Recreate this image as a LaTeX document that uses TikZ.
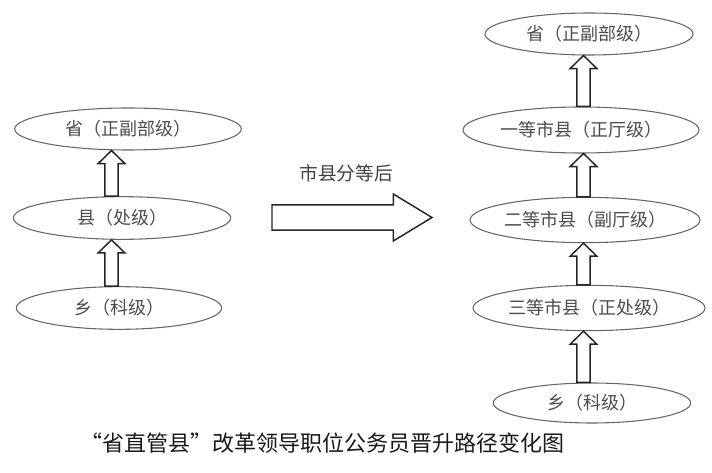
\documentclass[tikz,border=0pt]{standalone}
\usepackage{fontspec}
\newfontfamily\cjk{Noto Sans CJK SC}
\usetikzlibrary{shapes.geometric,calc}
\tikzset{
  post/.style={ellipse, draw=black!60, line width=0.8pt, inner sep=0pt,
    text=black!70, font=\cjk\fontsize{13.5pt}{14pt}\selectfont},
  hollow/.style={draw=black!85, line width=1.1pt, fill=white, line join=miter},
}
% hollow upward block arrow from node #1 to node #2 at x = #3
\newcommand{\blockup}[3]{%
  \draw[hollow] let \p1=(#1.north), \p2=(#2.south), \p3=(#3,0) in
    (\x3-4.9pt,\y1) -- (\x3-4.9pt,\y2-9.75pt) -- (\x3-10pt,\y2-9.75pt) -- (\x3,\y2)
    -- (\x3+10pt,\y2-9.75pt) -- (\x3+4.9pt,\y2-9.75pt) -- (\x3+4.9pt,\y1) -- cycle;}

\begin{document}
\begin{tikzpicture}[x=0.75pt,y=-0.75pt]
\useasboundingbox (0,0) rectangle (712,473);
% before
\node[post, minimum width=170pt, minimum height=31.5pt] (L1) at (128,129) {省（正副部级）};
\node[post, minimum width=163pt, minimum height=32pt] (L2) at (122,218) {县（处级）};
\node[post, minimum width=154pt, minimum height=32pt] (L3) at (119,308) {乡（科级）};
\blockup{L2}{L1}{111.5}
\blockup{L3}{L2}{111.5}
% change
\coordinate (ms) at (272,217.5);
\coordinate (me) at (432,217.5);
\draw[hollow] let \p1=(ms), \p2=(me) in
  (\x1,\y1-9.4pt) -- (\x2-29pt,\y1-9.4pt) -- (\x2-29pt,\y1-17.6pt) -- (\x2,\y2)
  -- (\x2-29pt,\y1+17.6pt) -- (\x2-29pt,\y1+9.4pt) -- (\x1,\y1+9.4pt) -- cycle;
\node[font=\cjk\fontsize{14pt}{15pt}\selectfont, text=black!75] (after) at (346,173) {市县分等后};
% after
\node[post, minimum width=156pt, minimum height=31.5pt] (R1) at (589,34) {省（正副部级）};
\node[post, minimum width=177pt, minimum height=34.5pt] (R2) at (581,130) {一等市县（正厅级）};
\node[post, minimum width=172.5pt, minimum height=34pt] (R3) at (585,220) {二等市县（副厅级）};
\node[post, minimum width=174pt, minimum height=34pt] (R4) at (589,308) {三等市县（正处级）};
\node[post, minimum width=148pt, minimum height=30pt] (R5) at (592,403) {乡（科级）};
\blockup{R2}{R1}{583.5}
\blockup{R3}{R2}{583.5}
\blockup{R4}{R3}{583.5}
\blockup{R5}{R4}{583.5}
% caption
\node[font=\cjk\fontsize{16.5pt}{17pt}\selectfont, text=black!90] (title) at (322,443) {“省直管县”改革领导职位公务员晋升路径变化图};
\end{tikzpicture}
\end{document}
